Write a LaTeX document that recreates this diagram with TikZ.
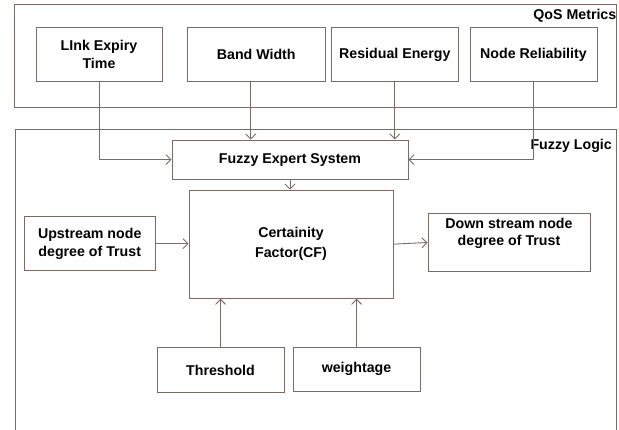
\documentclass[tikz,border=0pt]{standalone}
\usepackage{fontspec}
\setmainfont{Liberation Sans}
\usetikzlibrary{arrows.meta}
\definecolor{ln}{HTML}{7B6B66}
\begin{document}
\begin{tikzpicture}[x=1pt,y=-1pt,
  box/.style={draw=ln,line width=0.9pt,inner sep=0pt,align=center,
    font=\fontsize{14.2}{18}\selectfont\bfseries,text=black},
  lbl/.style={font=\fontsize{14.2}{18}\selectfont\bfseries,inner sep=0pt,text=black},
  arr/.style={draw=ln,line width=0.9pt,-{Straight Barb[length=5pt,width=10pt]}}]
\useasboundingbox (0,0) rectangle (619,430);
\clip (0,0) rectangle (619,430);
% containers
\node[box,minimum width=602pt,minimum height=103.3pt] (qos) at (315,55.65) {};
\node[lbl,anchor=east] (qoslbl) at (616.5,16) {QoS Metrics};
\node[box,minimum width=601pt,minimum height=330.7pt] (fl) at (315.5,294.65) {};
\node[lbl,anchor=east] (fllbl) at (612,146) {Fuzzy Logic};
% metrics
\node[box,minimum width=126pt,minimum height=54pt] (link) at (99,54.7) {LInk Expiry\\Time};
\node[box,minimum width=138.5pt,minimum height=54pt] (band) at (256.25,54.7) {Band Width};
\node[box,minimum width=127.6pt,minimum height=54pt] (res) at (394.8,54.7) {Residual Energy};
\node[box,minimum width=127pt,minimum height=54pt] (rel) at (533.5,54.7) {Node Reliability};
% fuzzy logic
\node[box,minimum width=236pt,minimum height=39.3pt] (fes) at (290,159.65) {Fuzzy Expert System};
\node[box,minimum width=204pt,minimum height=108.3pt] (cf) at (291,244.15) {Certainity\\[2pt]Factor(CF)};
\node[box,minimum width=130.5pt,minimum height=54pt] (up) at (89.75,243.7) {Upstream node\\degree of Trust};
\node[box,minimum width=162pt,minimum height=58.4pt] (down) at (509,242.5) {};
\node[lbl,align=center] (downtxt) at (509,233.5) {Down stream node\\[-1.5pt]degree of Trust};
\node[box,minimum width=127pt,minimum height=44.6pt] (thr) at (220.5,370) {Threshold};
\node[box,minimum width=127pt,minimum height=44.7pt] (wt) at (356.5,369.35) {weightage};
% connectors
\draw[arr] (link.south) |- (fes.west);
\draw[arr] ([xshift=-5.5pt]band.south) -- ([xshift=-5.5pt]band.south |- fes.north);
\draw[arr] (res.south) -- (res.south |- fes.north);
\draw[arr] (rel.south) |- (fes.east);
\draw[arr] (fes.south) -- (fes.south |- cf.north);
\draw[arr] (up.east) -- (up.east -| cf.west);
\draw[arr] (cf.east) -- (down.west);
\draw[arr] (thr.north) -- (thr.north |- cf.south);
\draw[arr] (wt.north) -- (wt.north |- cf.south);
\end{tikzpicture}
\end{document}
